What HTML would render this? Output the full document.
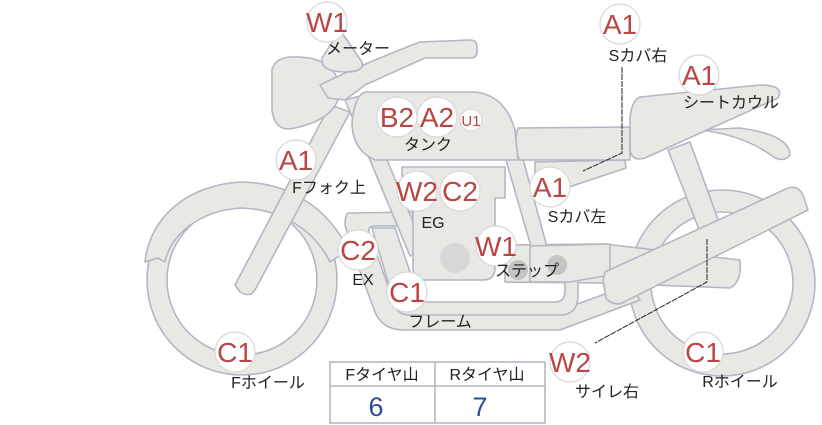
<!DOCTYPE html>
<html><head><meta charset="utf-8"><style>
html,body{margin:0;padding:0;background:#fff;}
svg{display:block;}
.p{fill:#e8e8e4;stroke:#b3b7c3;stroke-width:1.6;stroke-linejoin:round;}
.c{fill:#fff;stroke:#d8d8d8;stroke-width:1.2;}
.r{fill:#b94545;font-family:"Liberation Sans",sans-serif;font-size:28px;text-anchor:middle;}
.l{fill:#222;font-family:"Liberation Sans","Noto Sans CJK JP",sans-serif;font-size:16px;text-anchor:middle;}
</style></head><body>
<svg width="822" height="425" viewBox="0 0 822 425" xmlns="http://www.w3.org/2000/svg">
<path class="p" fill-rule="evenodd" d="M722,190a93,93 0 1,1 0,186a93,93 0 1,1 0,-186zM722,212a71,71 0 1,0 0,142a71,71 0 1,0 0,-142z"/>
<path class="p" fill-rule="evenodd" d="M242,185a95,95 0 1,1 0,190a95,95 0 1,1 0,-190zM242,205a75,75 0 1,0 0,150a75,75 0 1,0 0,-150z"/>
<path class="p" d="M145,262 C150,215 190,185 240,182 C290,182 330,210 348,250 L330,262 C315,232 285,210 242,208 C200,210 170,235 165,262 L158,258 Z"/>
<path class="p" d="M668,150 L690,142 L720,225 L700,232 Z"/>
<path class="p" d="M505,245 L605,244 L740,260 Q742,282 730,288 L600,283 L505,282 Z"/>
<path class="p" d="M350,213 Q345,212 345,225 L352,250 L375,312 Q382,330 405,330 L560,330 L640,300 L630,285 L555,312 L410,312 Q398,312 393,300 L370,235 Q366,226 375,226 L413,226 L413,212 Z"/>
<path class="p" d="M372,228 L395,228 L418,295 Q420,302 430,302 L555,302 Q565,302 565,290 L565,275 L578,275 L578,295 Q578,315 560,315 L410,315 Q398,315 395,305 Z"/>
<path class="p" d="M345,100 L360,96 L425,250 L410,256 Z"/>
<path class="p" d="M503,150 L520,148 L550,258 L535,260 Z"/>
<path class="p" d="M402,167 L505,167 L505,198 L495,198 L495,268 Q495,280 483,280 L425,280 Q413,280 413,268 L413,198 L402,198 Z"/>
<circle cx="455" cy="258" r="15" fill="#d7d7d7"/>
<path class="p" d="M530,246 L610,244 L610,275 L570,282 L530,282 Z"/>
<circle cx="518" cy="270" r="10" fill="#c4c4c4"/><circle cx="557" cy="265" r="10" fill="#c4c4c4"/>
<path class="p" d="M535,162 L625,160 L626,168 L545,195 L535,195 Z"/>
<path class="p" d="M518,128 L630,127 L630,160 L520,160 Q512,150 518,128 Z"/>
<path class="p" d="M740,128 Q790,135 790,155 Q785,162 775,158 Q745,135 700,130 Z"/>
<path class="p" d="M640,97 L760,85 Q785,85 778,98 L645,158 Q632,162 630,150 L630,118 Q632,100 640,97 Z"/>
<path class="p" d="M365,92 L475,92 Q505,95 515,130 L518,160 L375,160 Q352,150 352,122 Q355,95 365,92 Z"/>
<path class="p" d="M330,105 L350,112 L255,290 Q250,298 240,292 L235,285 Z"/>
<path class="p" d="M290,57 Q335,55 340,88 Q340,118 295,128 Q275,133 272,110 L272,70 Q275,58 290,57 Z"/>
<path class="p" d="M320,85 Q360,65 420,42 L470,40 Q477,40 477,47 L477,52 Q477,58 470,58 L425,58 L365,85 L345,100 L328,98 Z"/>
<path class="p" d="M340,30 L362,62 Q365,72 345,72 Q320,72 322,58 Z"/>
<path class="p" d="M605,272 L788,188 Q798,185 803,195 L808,210 L620,304 Q610,304 606,298 L603,280 Z"/>
<polyline points="622,67 622,153 583,171" fill="none" stroke="#222" stroke-width="1" stroke-dasharray="6,1"/>
<polyline points="707,239 707,282 595,343" fill="none" stroke="#222" stroke-width="1" stroke-dasharray="6,1"/>
<circle class="c" cx="327" cy="22" r="20"/><text class="r" x="327" y="32">W1</text>
<text class="l" x="358" y="54">メーター</text>
<circle class="c" cx="397" cy="117" r="20"/><text class="r" x="397" y="127">B2</text>
<circle class="c" cx="437" cy="117" r="20"/><text class="r" x="437" y="127">A2</text>
<circle class="c" cx="471" cy="120" r="11"/><text class="r" x="471" y="126" style="font-size:15px">U1</text>
<text class="l" x="428" y="150">タンク</text>
<circle class="c" cx="296" cy="160" r="20"/><text class="r" x="296" y="170">A1</text>
<text class="l" x="329" y="193">Fフォク上</text>
<circle class="c" cx="417" cy="191" r="20"/><text class="r" x="417" y="201">W2</text>
<circle class="c" cx="460" cy="191" r="20"/><text class="r" x="460" y="201">C2</text>
<text class="l" x="433" y="228">EG</text>
<circle class="c" cx="620" cy="24" r="20"/><text class="r" x="620" y="34">A1</text>
<text class="l" x="638" y="61">Sカバ右</text>
<circle class="c" cx="699" cy="75" r="20"/><text class="r" x="699" y="85">A1</text>
<text class="l" x="731" y="108">シートカウル</text>
<circle class="c" cx="550" cy="187" r="20"/><text class="r" x="550" y="197">A1</text>
<text class="l" x="577" y="222">Sカバ左</text>
<circle class="c" cx="358" cy="250" r="20"/><text class="r" x="358" y="260">C2</text>
<text class="l" x="363" y="285">EX</text>
<circle class="c" cx="496" cy="246" r="20"/><text class="r" x="496" y="256">W1</text>
<text class="l" x="527" y="276">ステップ</text>
<circle class="c" cx="407" cy="292" r="20"/><text class="r" x="407" y="302">C1</text>
<text class="l" x="440" y="327">フレーム</text>
<circle class="c" cx="235" cy="352" r="20"/><text class="r" x="235" y="362">C1</text>
<text class="l" x="268" y="388">Fホイール</text>
<circle class="c" cx="570" cy="362" r="20"/><text class="r" x="570" y="372">W2</text>
<text class="l" x="607" y="397">サイレ右</text>
<circle class="c" cx="703" cy="352" r="20"/><text class="r" x="703" y="362">C1</text>
<text class="l" x="740" y="387">Rホイール</text>
<rect x="330" y="362" width="215" height="61" fill="#fff" stroke="#b3b7c3" stroke-width="1.6"/>
<line x1="330" y1="386" x2="545" y2="386" stroke="#b3b7c3" stroke-width="1.6"/>
<line x1="435" y1="362" x2="435" y2="423" stroke="#b3b7c3" stroke-width="1.6"/>
<text class="l" x="382" y="380">Fタイヤ山</text>
<text class="l" x="487" y="380">Rタイヤ山</text>
<text x="376" y="416" fill="#2d4c9c" font-family="Liberation Sans,sans-serif" font-size="27" text-anchor="middle">6</text>
<text x="480" y="416" fill="#2d4c9c" font-family="Liberation Sans,sans-serif" font-size="27" text-anchor="middle">7</text>
</svg>
</body></html>
